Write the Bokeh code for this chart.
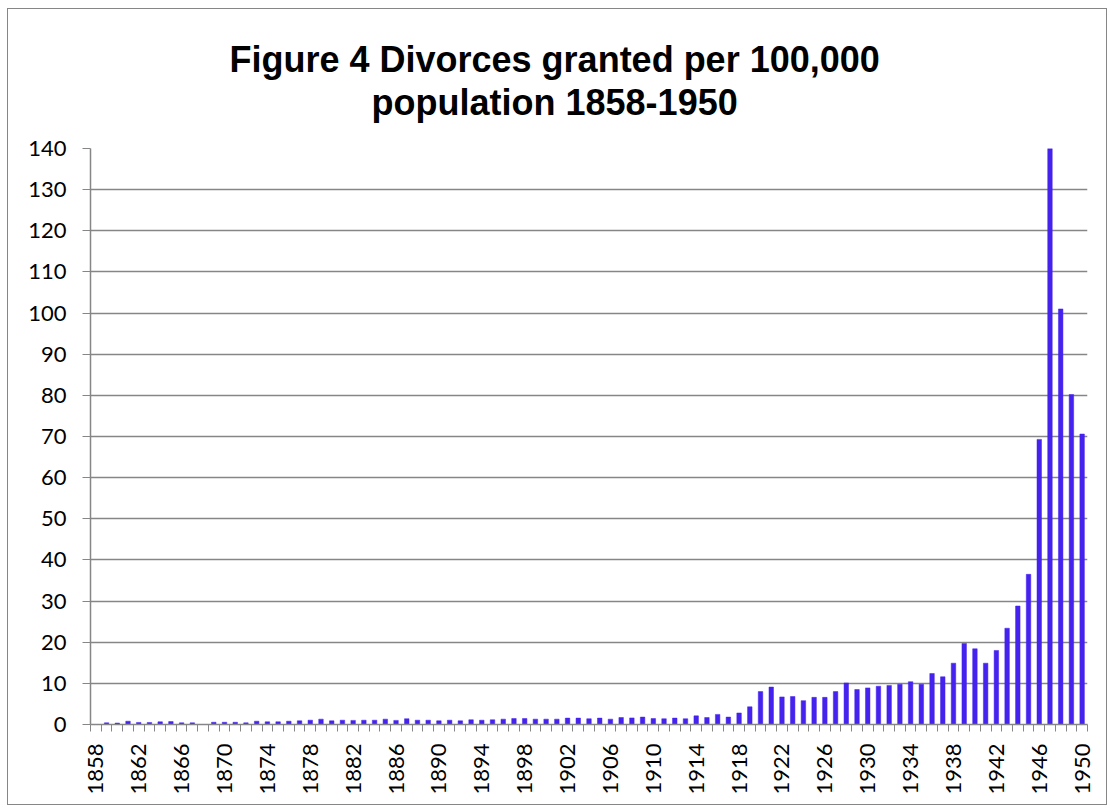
from bokeh.plotting import figure
from bokeh.models import FixedTicker, Title, Range1d
from bokeh.embed import file_html
from bokeh.resources import INLINE
import math

years = list(range(1858, 1951))
rates = [
    0.0, 0.4, 0.35, 0.8, 0.5, 0.5, 0.65, 0.7, 0.4, 0.4,        # 1858-1867
    0.0, 0.55, 0.55, 0.55, 0.4, 0.8, 0.65, 0.65, 0.8, 0.9,     # 1868-1877
    1.05, 1.3, 0.9, 1.05, 1.0, 1.05, 1.05, 1.3, 1.0, 1.4,      # 1878-1887
    1.05, 1.05, 0.9, 1.05, 0.9, 1.15, 1.05, 1.15, 1.3, 1.45,   # 1888-1897
    1.45, 1.3, 1.3, 1.3, 1.55, 1.55, 1.4, 1.55, 1.3, 1.7,      # 1898-1907
    1.6, 1.8, 1.45, 1.4, 1.55, 1.4, 2.1, 1.7, 2.45, 1.8,       # 1908-1917
    2.8, 4.3, 8.0, 9.1, 6.7, 6.8, 5.8, 6.6, 6.6, 8.0,          # 1918-1927
    10.1, 8.5, 8.9, 9.3, 9.5, 9.8, 10.4, 9.8, 12.4, 11.6,      # 1928-1937
    14.9, 19.7, 18.4, 14.9, 18.0, 23.4, 28.8, 36.5, 69.3, 140.0,  # 1938-1947
    101.0, 80.2, 70.6,                                          # 1948-1950
]
label_years = list(range(1858, 1951, 4))
y_ticks = list(range(0, 141, 10))
title_text = "Figure 4 Divorces granted per 100,000\npopulation 1858-1950"

GRID = "#868686"
BAR = "#4622EE"

p = figure(width=1100, height=797, output_backend="svg", toolbar_location=None,
           x_range=Range1d(years[0] - 0.5, years[-1] + 0.5),
           y_range=Range1d(y_ticks[0], y_ticks[-1]),
           min_border_left=82, min_border_right=21, min_border_bottom=82,
           min_border_top=139)
p.styles = {"border": "1px solid #868686", "margin-left": "7px", "margin-top": "8px"}
p.outline_line_color = None
p.background_fill_color = "white"
p.border_fill_color = "white"

p.add_layout(Title(text=title_text, align="left", offset=139, text_align="center",
                   text_font="Liberation Sans", text_font_size="36px",
                   text_font_style="bold", text_color="black",
                   text_line_height=1.07, standoff=50), "above")

p.vbar(x=years, top=rates, width=0.42, fill_color=BAR, line_color=BAR, line_width=0.5)

# x axis
xa = p.xaxis[0]
xa.ticker = FixedTicker(ticks=label_years, minor_ticks=[y - 0.5 for y in years] + [years[-1] + 0.5])
xa.major_tick_out = 0
xa.major_tick_in = 0
xa.minor_tick_out = 7
xa.minor_tick_in = 0
xa.minor_tick_line_color = GRID
xa.axis_line_color = GRID
xa.axis_line_width = 1.5
xa.major_label_orientation = math.pi / 2
xa.major_label_standoff = 12
xa.major_label_text_font = "Lato"
xa.major_label_text_font_size = "22px"
xa.major_label_text_color = "black"

# y axis
ya = p.yaxis[0]
ya.ticker = FixedTicker(ticks=y_ticks)
ya.major_tick_out = 8
ya.major_tick_in = 0
ya.minor_tick_out = 0
ya.minor_tick_in = 0
ya.major_tick_line_color = GRID
ya.axis_line_color = GRID
ya.axis_line_width = 1.5
ya.major_label_standoff = 16
ya.major_label_text_font = "Lato"
ya.major_label_text_font_size = "22px"
ya.major_label_text_color = "black"

p.xgrid.grid_line_color = None
p.ygrid.grid_line_color = GRID
p.ygrid.grid_line_width = 1.5
p.ygrid.ticker = FixedTicker(ticks=y_ticks)

open("out.html", "w").write(file_html(p, INLINE))
